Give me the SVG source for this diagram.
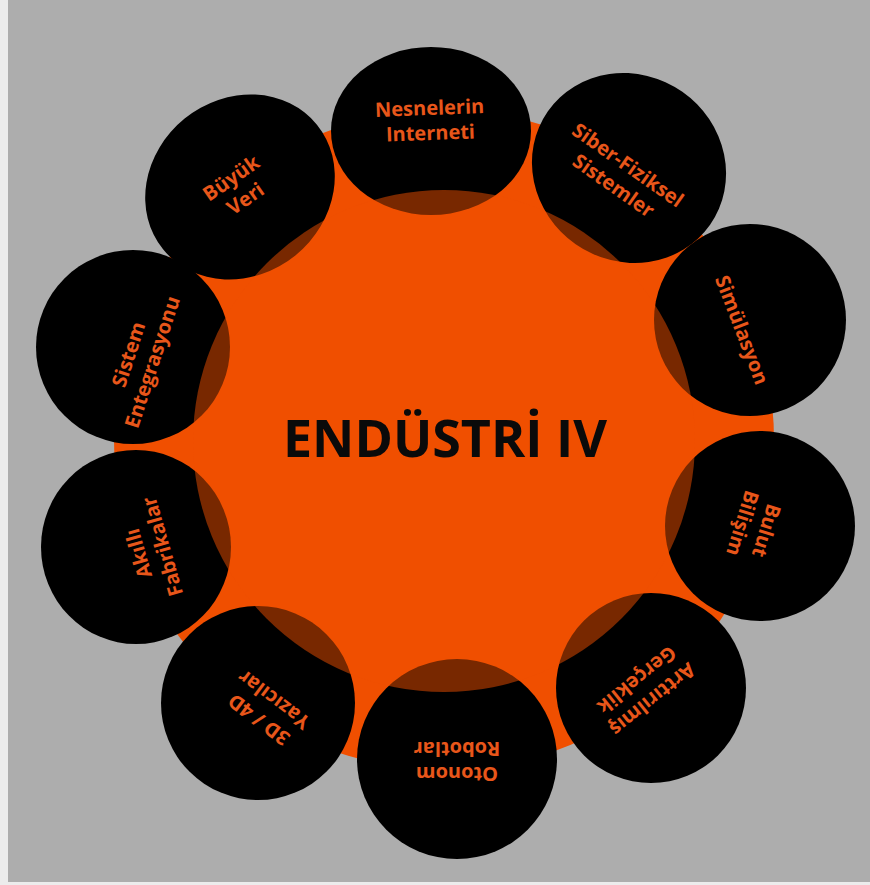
<svg xmlns="http://www.w3.org/2000/svg" width="870" height="885" viewBox="0 0 870 885">
<style>
.blob{fill:#000}
.lbl{font-family:"Open Sans","Liberation Sans",sans-serif;font-weight:700;font-size:20px;fill:#e8561a;text-anchor:middle}
.title{font-family:"Open Sans","Liberation Sans",sans-serif;font-weight:700;font-size:52px;fill:#0a0a0a;text-anchor:middle}
</style>
<rect x="0" y="0" width="870" height="885" fill="#adadad"/>
<rect x="0" y="0" width="8" height="885" fill="#ececec"/>
<rect x="0" y="882" width="870" height="3" fill="#ececec"/>
<circle id="star" cx="444" cy="440" r="330" fill="#f04f00"/>
<g id="n1"><ellipse class="blob" cx="431" cy="131" rx="100" ry="84"/>
<g transform="translate(430,120) rotate(-2)"><text class="lbl" y="-5">Nesnelerin</text><text class="lbl" y="20">Interneti</text></g></g>
<g id="n2"><ellipse class="blob" cx="629" cy="168" rx="99" ry="93" transform="rotate(35 629 168)"/>
<g transform="translate(621,175) rotate(35)"><text class="lbl" y="-5">Siber-Fiziksel</text><text class="lbl" y="20">Sistemler</text></g></g>
<g id="n3"><circle class="blob" cx="750" cy="320" r="96"/>
<g transform="translate(742,330) rotate(69)"><text class="lbl" y="7">Simülasyon</text></g></g>
<g id="n4"><circle class="blob" cx="760" cy="526" r="95"/>
<g transform="translate(755,527) rotate(107)"><text class="lbl" y="-5">Bulut</text><text class="lbl" y="20">Bilişim</text></g></g>
<g id="n5"><circle class="blob" cx="651" cy="688" r="95"/>
<g transform="translate(645,690) rotate(141)"><text class="lbl" y="-5">Arttırılmış</text><text class="lbl" y="20">Gerçeklik</text></g></g>
<g id="n6"><circle class="blob" cx="457" cy="759" r="100"/>
<g transform="translate(457,762) rotate(180)"><text class="lbl" y="-5">Otonom</text><text class="lbl" y="20">Robotlar</text></g></g>
<g id="n7"><circle class="blob" cx="258" cy="703" r="97"/>
<g transform="translate(266,710) rotate(217)"><text class="lbl" y="-5">3D / 4D</text><text class="lbl" y="20">Yazıcılar</text></g></g>
<g id="n8"><ellipse class="blob" cx="136" cy="547" rx="95" ry="97"/>
<g transform="translate(150,550) rotate(254)"><text class="lbl" y="-5">Akıllı</text><text class="lbl" y="20">Fabrikalar</text></g></g>
<g id="n9"><circle class="blob" cx="133" cy="347" r="97"/>
<g transform="translate(140,358) rotate(288)"><text class="lbl" y="-5">Sistem</text><text class="lbl" y="20">Entegrasyonu</text></g></g>
<g id="n10"><ellipse class="blob" cx="240" cy="187" rx="99" ry="88" transform="rotate(-39 240 187)"/>
<g transform="translate(238,188) rotate(325)"><text class="lbl" y="-5">Büyük</text><text class="lbl" y="20">Veri</text></g></g>
<g id="center"><circle cx="444" cy="441" r="251" fill="#f04f00" fill-opacity="0.5"/>
<text class="title" x="445" y="457">ENDÜSTRİ IV</text></g>
<g id="connectors"/>
</svg>
